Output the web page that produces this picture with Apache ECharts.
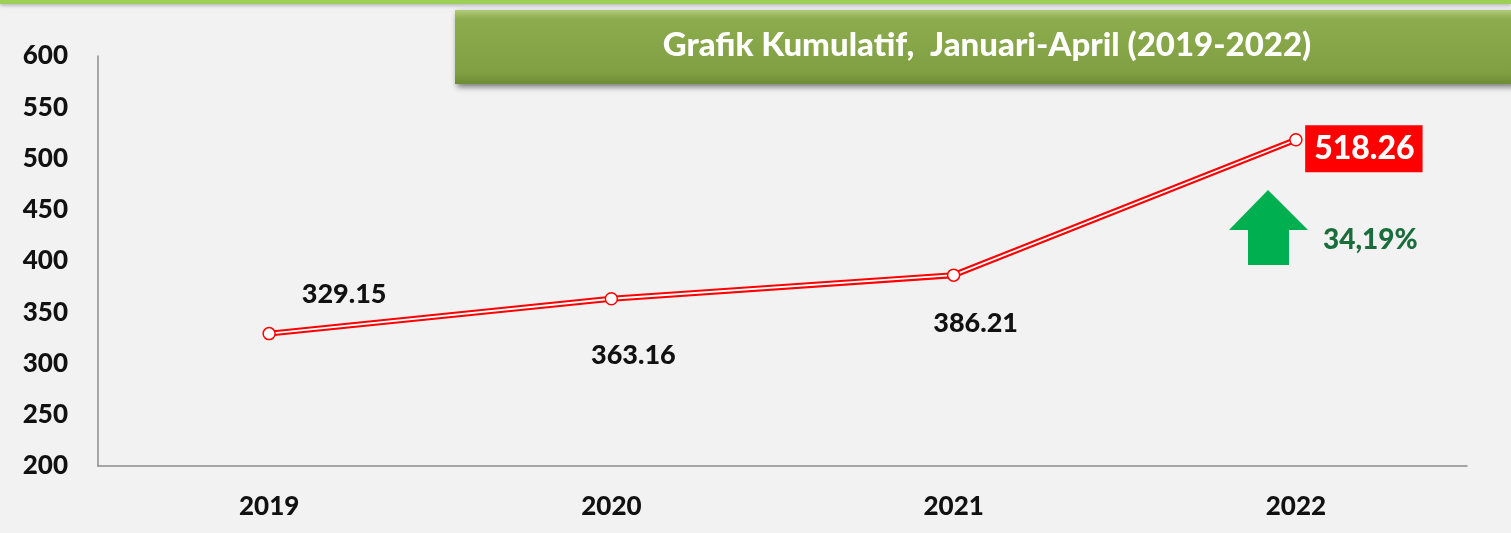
<!DOCTYPE html>
<html>
<head>
<meta charset="utf-8">
<script src="https://cdn.jsdelivr.net/npm/echarts@6/dist/echarts.min.js"></script>
<style>
  html, body { margin: 0; padding: 0; background: #f2f2f2; }
  #main { width: 1511px; height: 533px; }
</style>
</head>
<body>
<div id="main"></div>
<script>
// data
var years = ['2019', '2020', '2021', '2022'];
var values = [329.15, 363.16, 386.21, 518.26];
var yTicks = [200, 250, 300, 350, 400, 450, 500, 550, 600];
var growthText = '34,19%';
var titleText = 'Grafik Kumulatif,  Januari-April (2019-2022)';

var font = 'Lato, "Open Sans", sans-serif';
var heavy = 900;

// label placement per point (offset from the marker)
var labelOffsets = [[75, -39], [22, 57], [22, 48], [68, 9]];

var pointData = values.map(function (v, i) {
  var last = i === values.length - 1;
  return {
    value: v,
    label: last ? {
      show: true, position: 'inside', offset: labelOffsets[i],
      color: '#fff', backgroundColor: '#ff0000',
      fontSize: 32, fontWeight: heavy, fontFamily: font,
      padding: [8, 8, 7, 9]
    } : {
      show: true, position: 'inside', offset: labelOffsets[i],
      color: '#111', fontSize: 27, fontWeight: heavy, fontFamily: font
    }
  };
});

var myChart = echarts.init(document.getElementById('main'));

var option = {
  backgroundColor: '#f2f2f2',
  animation: false,
  grid: { left: 98, right: 44, top: 56, bottom: 67 },
  xAxis: {
    type: 'category',
    data: years,
    boundaryGap: true,
    axisLine: { lineStyle: { color: '#8c8c8c', width: 1.5 } },
    axisTick: { show: false },
    axisLabel: { color: '#111', fontSize: 26, fontWeight: heavy, fontFamily: font, margin: 28 }
  },
  yAxis: {
    type: 'value',
    min: yTicks[0],
    max: yTicks[yTicks.length - 1],
    interval: yTicks[1] - yTicks[0],
    axisLine: { show: true, lineStyle: { color: '#8c8c8c', width: 1.5 } },
    axisTick: { show: false },
    splitLine: { show: false },
    axisLabel: { color: '#111', fontSize: 26, fontWeight: heavy, fontFamily: font, margin: 30 }
  },
  series: [{
    type: 'line',
    data: values,
    symbol: 'none',
    lineStyle: { color: '#ff0000', width: 6 },
    z: 2
  }, {
    type: 'line',
    data: pointData,
    symbol: 'circle',
    symbolSize: 12,
    itemStyle: { color: '#ffffff', borderColor: '#ff0000', borderWidth: 1.5 },
    lineStyle: { color: '#ffffff', width: 1.8 },
    z: 3
  }],
  graphic: [
    // thin green band at the very top
    {
      type: 'rect', shape: { x: 0, y: 0, width: 1511, height: 4 },
      style: { fill: '#9ccf55', shadowBlur: 4, shadowColor: 'rgba(0,0,0,0.35)', shadowOffsetY: 1 }
    },
    // title box
    {
      type: 'rect', shape: { x: 455, y: 10, width: 1070, height: 74 },
      style: {
        fill: new echarts.graphic.LinearGradient(0, 0, 0, 1, [
          { offset: 0, color: '#b2cc7c' },
          { offset: 0.12, color: '#8cac4e' },
          { offset: 0.85, color: '#7f9f42' },
          { offset: 1, color: '#6d8c33' }
        ]),
        shadowBlur: 6, shadowColor: 'rgba(0,0,0,0.5)', shadowOffsetX: 2, shadowOffsetY: 3
      }
    },
    {
      type: 'text', x: 987, y: 45,
      style: {
        text: titleText, fill: '#fff', fontSize: 33, fontWeight: heavy, fontFamily: font,
        align: 'center', verticalAlign: 'middle'
      }
    },
    // green up arrow
    {
      type: 'polygon',
      shape: { points: [[1268, 190], [1308, 230], [1289, 230], [1289, 265], [1248, 265], [1248, 230], [1229, 230]] },
      style: { fill: '#00b050' }
    },
    {
      type: 'text', x: 1323, y: 240,
      style: {
        text: growthText, fill: '#1a6e3c', fontSize: 28, fontWeight: heavy, fontFamily: font,
        align: 'left', verticalAlign: 'middle'
      }
    }
  ]
};

myChart.setOption(option);
</script>
</body>
</html>
